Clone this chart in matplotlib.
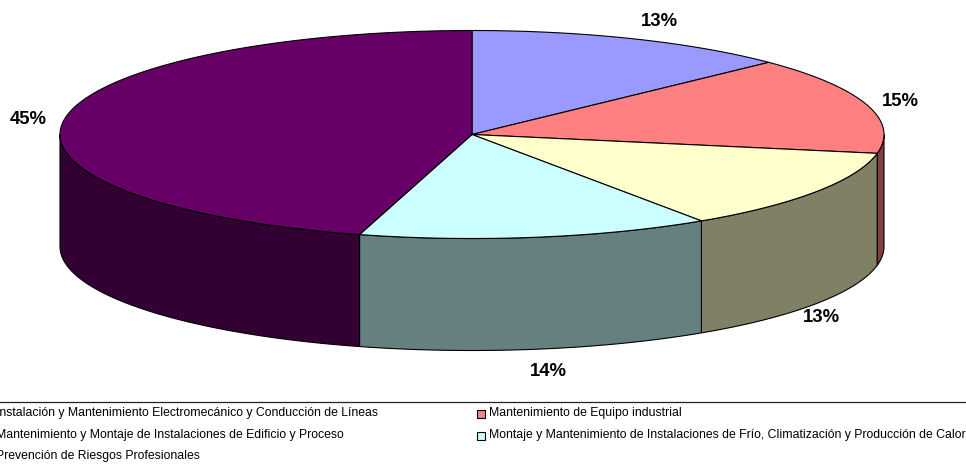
import numpy as np
import matplotlib
matplotlib.use('Agg')
import matplotlib.pyplot as plt
from matplotlib.patches import Rectangle

plt.rcParams['font.family'] = ['Liberation Sans', 'DejaVu Sans']

categorias = ['Instalación y Mantenimiento Electromecánico y Conducción de Líneas',
              'Mantenimiento de Equipo industrial',
              'Mantenimiento y Montaje de Instalaciones de Edificio y Proceso',
              'Montaje y Mantenimiento de Instalaciones de Frío, Climatización y Producción de Calor',
              'Prevención de Riesgos Profesionales']
valores = [12.8, 15.1, 12.7, 13.8, 45.6]
etiquetas = ['13%', '15%', '13%', '14%', '45%']
colores = ['#9999FF', '#FF8080', '#FFFFCC', '#CCFFFF', '#660066']
oscuros = ['#4D4D80', '#804040', '#808066', '#668080', '#330033']

# geometria en pixeles de la imagen
cx, cy, rx, ry, prof = 472, 134.5, 412, 104, 112
pos_etq = [(659, 22), (900, 101), (821, 317), (548, 371), (28, 119)]
pos_ley = [(-4, 413), (489, 413), (-4, 435), (489, 435), (-4, 456)]

fig = plt.figure(figsize=(9.66, 4.66), dpi=100)
ax = fig.add_axes([0, 0, 1, 1])
ax.set_xlim(0, 966)
ax.set_ylim(466, 0)
ax.axis('off')

def borde(a0, a1):
    t = np.radians(np.linspace(a0, a1, 200))
    return cx + rx*np.sin(t), cy - ry*np.cos(t)

limites = np.concatenate([[0], np.cumsum(valores)]) / np.sum(valores) * 360

# paredes laterales (solo la mitad de abajo se ve)
for i in range(len(valores)):
    a0, a1 = max(limites[i], 90), min(limites[i+1], 270)
    if a1 <= a0:
        continue
    x, y = borde(a0, a1)
    ax.fill(np.r_[x, x[::-1]], np.r_[y, y[::-1]+prof], fc=oscuros[i], ec='black', lw=0.8, zorder=2)

# tapa
for i in range(len(valores)):
    x, y = borde(limites[i], limites[i+1])
    ax.fill(np.r_[cx, x], np.r_[cy, y], fc=colores[i], ec='black', lw=0.8, zorder=3)

for (x, y), e in zip(pos_etq, etiquetas):
    ax.text(x, y, e, fontsize=13.3, fontweight='bold', ha='center', va='center', color='black')

# leyenda
ax.plot([0, 966], [402, 402], color='#222222', lw=0.9, clip_on=False)
for (x, y), c, col in zip(pos_ley, categorias, colores):
    ax.add_patch(Rectangle((x-12, y-3), 8, 8, fc=col, ec='black', lw=0.8))
    ax.text(x, y, c, fontsize=8.8, ha='left', va='center', color='black')

plt.savefig('out.png', dpi=100)
plt.close()
